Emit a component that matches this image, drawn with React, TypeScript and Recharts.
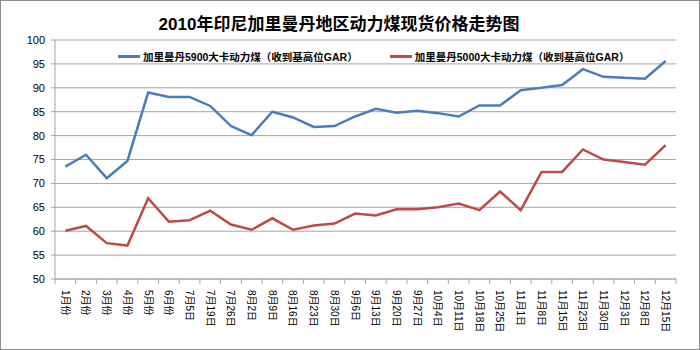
import React from 'react'
import { LineChart, Line, XAxis, YAxis, CartesianGrid } from 'recharts'

const categories = [
  '1月份', '2月份', '3月份', '4月份', '5月份', '6月份',
  '7月5日', '7月19日', '7月26日', '8月2日', '8月9日', '8月16日', '8月23日', '8月30日',
  '9月6日', '9月13日', '9月20日', '9月27日', '10月4日', '10月11日', '10月18日', '10月25日',
  '11月1日', '11月8日', '11月15日', '11月23日', '11月30日', '12月3日', '12月8日', '12月15日',
]

const gar5900 = [
  73.5, 76, 71.1, 74.7, 89, 88.1, 88.1, 86.2, 82, 80.1, 85, 83.8, 81.8, 82, 84,
  85.6, 84.8, 85.2, 84.7, 84, 86.3, 86.3, 89.5, 90, 90.6, 93.9, 92.3, 92.1, 91.9, 95.6,
]

const gar5000 = [
  60.1, 61.1, 57.5, 57, 66.9, 62, 62.3, 64.3, 61.4, 60.3, 62.7, 60.3, 61.2, 61.6, 63.7,
  63.3, 64.6, 64.6, 65, 65.8, 64.4, 68.3, 64.4, 72.4, 72.4, 77.1, 75, 74.5, 73.9, 78,
]

const yTicks = [50, 55, 60, 65, 70, 75, 80, 85, 90, 95, 100]

const series = [
  { key: 'gar5900', name: '加里曼丹5900大卡动力煤（收到基高位GAR）', color: '#4a7ebb' },
  { key: 'gar5000', name: '加里曼丹5000大卡动力煤（收到基高位GAR）', color: '#be4b48' },
]

const data = categories.map((c, i) => ({ cat: c, gar5900: gar5900[i], gar5000: gar5000[i] }))

const FONT = '"Liberation Sans", "Noto Sans CJK SC", sans-serif'
const GRID = '#a6a6a6'
const HALF_BAND = 620 / categories.length / 2

function XTick(props: any) {
  const { x, y, payload, index } = props
  const last = index === categories.length - 1
  return (
    <g>
      <line x1={x - HALF_BAND} x2={x - HALF_BAND} y1={y - 5} y2={y} stroke={GRID} />
      {last && <line x1={x + HALF_BAND} x2={x + HALF_BAND} y1={y - 5} y2={y} stroke={GRID} />}
      <g transform={`translate(${x},${y + 6})`}>
        <text transform="rotate(90)" x={0} y={0} dy="0.36em" textAnchor="start" fontSize={10} fill="#000" fontFamily={FONT}>
          {payload.value}
        </text>
      </g>
    </g>
  )
}

export default function App() {
  return (
    <div style={{ position: 'absolute', left: 0, top: 0, width: 700, height: 350, background: '#fff', fontFamily: FONT }}>
      <div style={{ position: 'absolute', left: 0, top: 0, width: 700, height: 350, border: '1px solid #8c8c8c', boxSizing: 'border-box' }} />
      <div style={{ position: 'absolute', left: 0, width: 678, top: 10, textAlign: 'center', fontSize: 17, fontWeight: 'bold', color: '#000' }}>
        2010年印尼加里曼丹地区动力煤现货价格走势图
      </div>
      <LineChart width={700} height={350} data={data} margin={{ top: 40, right: 24, bottom: 11, left: 10 }}>
        <CartesianGrid vertical={false} stroke={GRID} strokeWidth={1} />
        <XAxis
          dataKey="cat"
          interval={0}
          padding={{ left: HALF_BAND, right: HALF_BAND }}
          height={60}
          tickSize={5}
          tickMargin={0}
          tickLine={false}
          axisLine={{ stroke: GRID }}
          tick={<XTick />}
        />
        <YAxis
          domain={[50, 100]}
          ticks={yTicks}
          width={45}
          tickSize={4}
          tickMargin={6}
          tickLine={{ stroke: GRID }}
          axisLine={{ stroke: GRID }}
          tick={{ fontSize: 11, fill: '#000', fontFamily: FONT }}
        />
        <YAxis yAxisId="r" orientation="right" width={0} tick={false} tickLine={false} axisLine={{ stroke: GRID }} domain={[50, 100]} />
        {series.map((s) => (
          <Line
            key={s.key}
            type="linear"
            dataKey={s.key}
            name={s.name}
            stroke={s.color}
            strokeWidth={2.5}
            dot={false}
            isAnimationActive={false}
          />
        ))}
      </LineChart>
      <div style={{ position: 'absolute', top: 49, left: 118, display: 'flex', fontSize: 10.5, fontWeight: 'bold', color: '#000' }}>
        {series.map((s, i) => (
          <div key={s.key} style={{ display: 'flex', alignItems: 'center', marginRight: i === 0 ? 32 : 0 }}>
            <span style={{ display: 'inline-block', width: 22, height: 2.5, background: s.color, marginRight: 3 }} />
            <span>{s.name}</span>
          </div>
        ))}
      </div>
    </div>
  )
}
